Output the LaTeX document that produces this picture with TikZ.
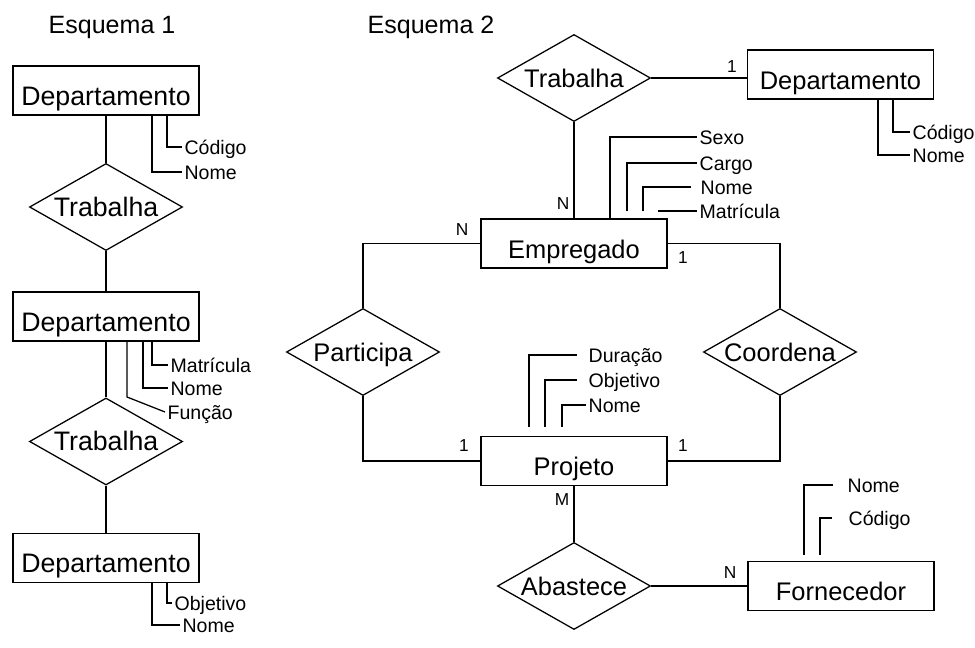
\documentclass[tikz,border=0pt]{standalone}
\usepackage{fontspec}
\setmainfont{Liberation Sans}
\usetikzlibrary{shapes.geometric,calc}

\begin{document}
\begin{tikzpicture}[
      x=0.025cm, y=-0.025cm, line width=0.9pt,
      entity/.style={draw, minimum width=4.65cm, minimum height=1.225cm, inner sep=0pt,
                     font=\fontsize{18.1}{20}\selectfont, text height=20.8pt, text depth=0pt},
      rel/.style={draw, diamond, aspect=1.76, minimum width=3.825cm, minimum height=2.175cm,
                  inner sep=0pt, font=\fontsize{18.1}{20}\selectfont, text height=13pt, text depth=0pt},
      big/.style={font=\fontsize{19}{21}\selectfont},
      attr/.style={anchor=west, inner ysep=0pt, inner xsep=0.05cm,
                   font=\fontsize{13.9}{15}\selectfont, text height=10pt, text depth=0pt},
      card/.style={inner sep=0pt, font=\fontsize{12.3}{13}\selectfont},
      title/.style={font=\fontsize{17.8}{20}\selectfont, text height=12.7pt, text depth=0pt}
    ]
      \useasboundingbox (0,0) rectangle (975,648);

      % Esquema 1
      \node[title] (tit1) at (112,25) {Esquema 1};
      \node[entity, big] (dep1) at (106,90.5) {Departamento};
      \node[rel, big] (trab1) at (106,207) {Trabalha};
      \node[entity, big] (dep2) at (106,316.5) {Departamento};
      \node[rel, big] (trab1b) at (106,441.5) {Trabalha};
      \node[entity, big] (dep3) at (106,558) {Departamento};
      \draw (dep1) -- (trab1);
      \draw (trab1) -- (dep2);
      \draw (dep2) -- (trab1b);
      \draw (trab1b) -- (dep3);

      \node[attr] (cod1) at (182,147) {Código};
      \node[attr] (nom1) at (182,172) {Nome};
      \draw (dep1.south -| 167,0) |- (cod1.west);
      \draw (dep1.south -| 152,0) |- (nom1.west);

      \node[attr] (mat2) at (168,365) {Matrícula};
      \node[attr] (nom2) at (168,388) {Nome};
      \node[attr] (fun2) at (165,412) {Função};
      \draw (dep2.south -| 152,0) |- (mat2.west);
      \draw (dep2.south -| 143,0) |- (nom2.west);
      \draw (dep2.south -| 127,0) -- (127,397) -- (fun2.west);

      \node[attr] (obj3) at (172,603) {Objetivo};
      \node[attr] (nom3) at (180,625) {Nome};
      \draw (dep3.south -| 167,0) |- (obj3.west);
      \draw (dep3.south -| 152,0) |- (nom3.west);

      % Esquema 2
      \node[title] (tit2) at (431,25) {Esquema 2};
      \node[rel] (trab2) at (574,78) {Trabalha};
      \node[entity] (dep4) at (840.5,74.5) {Departamento};
      \node[entity] (emp) at (574,243.5) {Empregado};
      \node[rel] (part) at (363,352) {Participa};
      \node[rel] (coord) at (780,352) {Coordena};
      \node[entity] (proj) at (574,461) {Projeto};
      \node[rel] (abast) at (574,586) {Abastece};
      \node[entity] (forn) at (841,586) {Fornecedor};

      \draw (trab2) -- (emp);
      \draw (trab2.east) -- (trab2.east -| dep4.west);
      \draw (emp.west) -| (part.north);
      \draw (part.south) |- (proj.west);
      \draw (emp.east) -| (coord.north);
      \draw (coord.south) |- (proj.east);
      \draw (proj) -- (abast);
      \draw (abast) -- (forn);

      \node[card] (c1) at (732,67) {1};
      \node[card] (c2) at (563,204) {N};
      \node[card] (c3) at (462,230) {N};
      \node[card] (c4) at (683,258) {1};
      \node[card] (c5) at (464,446) {1};
      \node[card] (c6) at (683,446) {1};
      \node[card] (c7) at (562,500) {M};
      \node[card] (c8) at (730,573) {N};

      \node[attr] (cod4) at (910,132) {Código};
      \node[attr] (nom4) at (910,155) {Nome};
      \draw (dep4.south -| 893,0) |- (cod4.west);
      \draw (dep4.south -| 878,0) |- (nom4.west);

      \node[attr] (sexo) at (697,137) {Sexo};
      \node[attr] (cargo) at (697,163) {Cargo};
      \node[attr, inner xsep=0.225cm] (nom5) at (691,187) {Nome};
      \node[attr] (mat5) at (697,211) {Matrícula};
      \draw (emp.north -| 610,0) |- (sexo.west);
      \draw ($(emp.north -| 627,0)+(0,-7)$) |- (cargo.west);
      \draw ($(emp.north -| 643,0)+(0,-7)$) |- (nom5.west);
      \draw (658,211) -- (mat5.west);

      \node[attr, inner xsep=0.275cm] (dur6) at (577,355) {Duração};
      \node[attr, inner xsep=0.275cm] (obj6) at (577,380) {Objetivo};
      \node[attr] (nom6) at (586,405) {Nome};
      \draw ($(proj.north -| 529,0)+(0,-9)$) |- (dur6.west);
      \draw ($(proj.north -| 545,0)+(0,-9)$) |- (obj6.west);
      \draw ($(proj.north -| 562,0)+(0,-9)$) |- (nom6.west);

      \node[attr, inner xsep=0.35cm] (nom7) at (833,485) {Nome};
      \node[attr, inner xsep=0.4cm] (cod7) at (832,518) {Código};
      \draw ($(forn.north -| 804,0)+(0,-6)$) |- (nom7.west);
      \draw ($(forn.north -| 820,0)+(0,-6)$) |- (cod7.west);
    \end{tikzpicture}
\end{document}
